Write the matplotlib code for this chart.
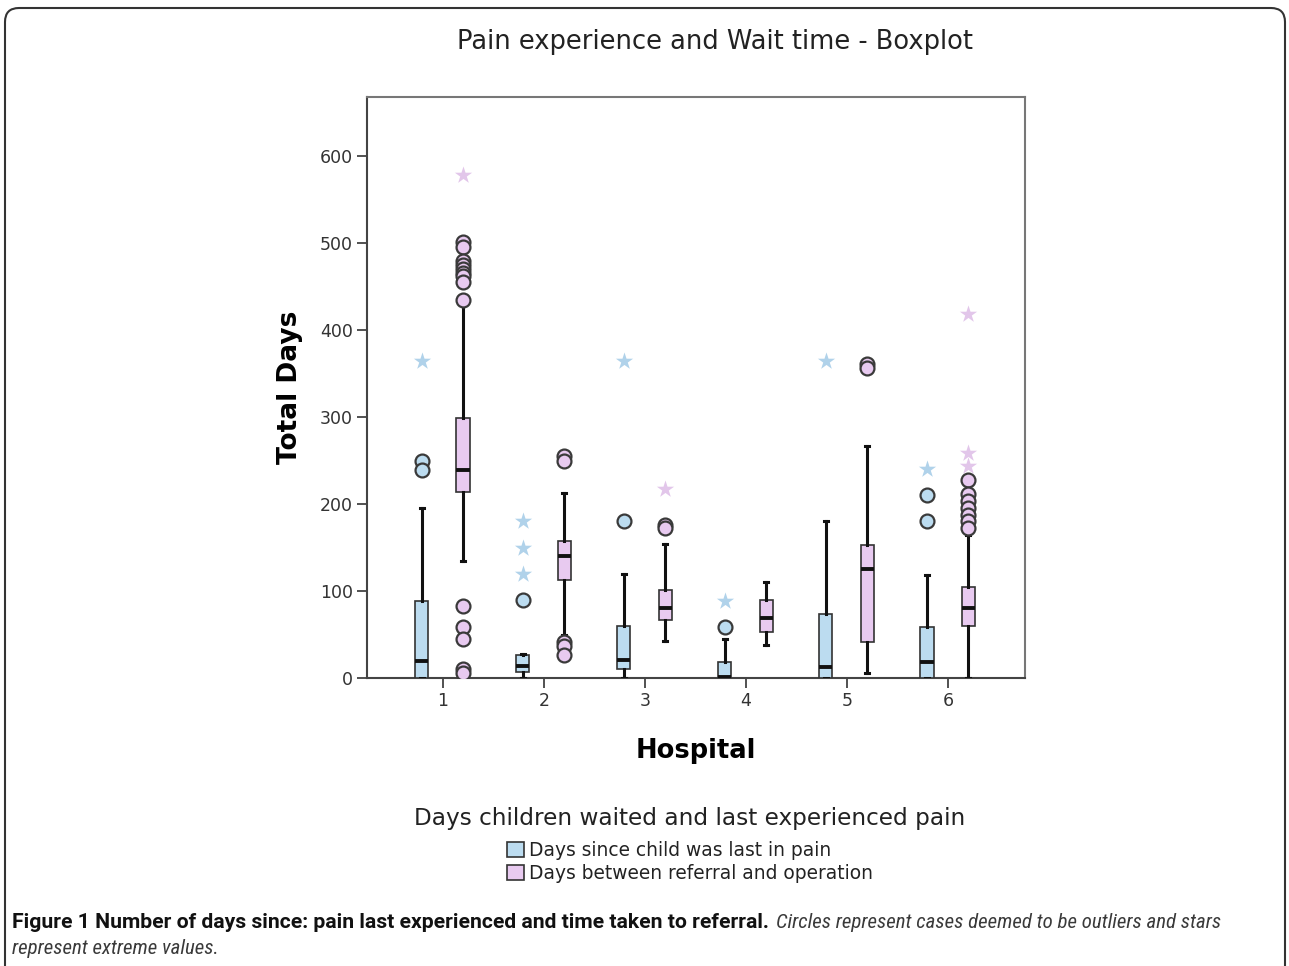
import matplotlib
matplotlib.use('Agg')
import matplotlib.pyplot as plt
from matplotlib.patches import Patch, FancyBboxPatch

plt.rcParams['font.family'] = ['DejaVu Sans']

# 数据: 每家医院的箱线统计值
hospitals = [1, 2, 3, 4, 5, 6]

# 蓝色: Days since child was last in pain
pain_whislo = [0, 0, 0, 0, 0, 0]
pain_q1 = [0, 7, 10, 0, 0, 0]
pain_med = [20, 14, 21, 1, 13, 19]
pain_q3 = [89, 26, 60, 19, 74, 59]
pain_whishi = [196, 28, 120, 45, 181, 119]
pain_outliers = [[250, 239], [90], [180], [59], [], [210, 180]]
pain_extremes = [[365], [180, 150, 120], [365], [89], [365], [240]]

# 粉色: Days between referral and operation
wait_whislo = [134, 50, 43, 38, 6, 0]
wait_q1 = [214, 113, 67, 53, 42, 60]
wait_med = [239, 140, 80, 69, 125, 81]
wait_q3 = [299, 158, 101, 90, 153, 105]
wait_whishi = [430, 213, 154, 110, 267, 165]
wait_outliers = [[501, 496, 480, 475, 470, 466, 462, 455, 435, 83, 59, 45, 10, 6],
                 [255, 250, 42, 37, 26],
                 [176, 173],
                 [],
                 [361, 357],
                 [228, 212, 204, 196, 188, 181, 173]]
wait_extremes = [[578], [], [217], [], [], [419, 259, 244]]

y_ticks = [0, 100, 200, 300, 400, 500, 600]

blue_fill = '#bcdcf0'
pink_fill = '#e8caf0'
blue_star = '#b0d2ea'
pink_star = '#e2c6ea'


def make_stats(whislo, q1, med, q3, whishi, outliers):
    stats = []
    for i in range(len(med)):
        stats.append({'whislo': whislo[i], 'q1': q1[i], 'med': med[i],
                      'q3': q3[i], 'whishi': whishi[i], 'fliers': outliers[i]})
    return stats


fig = plt.figure(figsize=(12.89, 9.66), dpi=100)
ax = fig.add_axes([0.2847, 0.2981, 0.5105, 0.6015])

series = [
    (make_stats(pain_whislo, pain_q1, pain_med, pain_q3, pain_whishi, pain_outliers),
     pain_extremes, -0.21, blue_fill, blue_star),
    (make_stats(wait_whislo, wait_q1, wait_med, wait_q3, wait_whishi, wait_outliers),
     wait_extremes, 0.2, pink_fill, pink_star),
]

for stats, extremes, offset, fill, star in series:
    pos = [h + offset for h in hospitals]
    ax.bxp(stats, positions=pos, widths=0.13, capwidths=0.04, patch_artist=True,
           boxprops=dict(facecolor=fill, edgecolor='#333333', linewidth=1.2),
           medianprops=dict(color='#111111', linewidth=2.8),
           whiskerprops=dict(color='#111111', linewidth=2.2),
           capprops=dict(color='#111111', linewidth=2.2),
           flierprops=dict(marker='o', markersize=10, markerfacecolor=fill,
                           markeredgecolor='#3a3a3a', markeredgewidth=1.6),
           zorder=3)
    for p, ext in zip(pos, extremes):
        ax.scatter([p] * len(ext), ext, marker='*', s=170, color=star,
                   linewidths=0, zorder=4)

ax.set_xlim(0.25, 6.76)
ax.set_ylim(0, 668)
ax.set_xticks(hospitals)
ax.set_xticklabels([str(h) for h in hospitals])
ax.set_yticks(y_ticks)
ax.tick_params(axis='both', labelsize=12.5, colors='#333333', length=7, width=1.2,
               direction='out', pad=3)
for sp in ax.spines.values():
    sp.set_color('#777777')
    sp.set_linewidth(1.5)
ax.spines['left'].set_color('#444444')
ax.spines['bottom'].set_color('#444444')

ax.set_ylabel('Total Days', fontsize=19, fontweight='bold', labelpad=12)
ax.set_xlabel('Hospital', fontsize=18.5, fontweight='bold', labelpad=20)

fig.text(715 / 1289, 1 - 42 / 966, 'Pain experience and Wait time - Boxplot',
         ha='center', va='center', fontsize=18.5, color='#222222')

handles = [Patch(facecolor=blue_fill, edgecolor='#333333', linewidth=1.2,
                 label='Days since child was last in pain'),
           Patch(facecolor=pink_fill, edgecolor='#333333', linewidth=1.2,
                 label='Days between referral and operation')]
leg = fig.legend(handles=handles, loc='upper center',
                 bbox_to_anchor=(690 / 1289, 1 - 790 / 966), frameon=False,
                 title='Days children waited and last experienced pain',
                 title_fontsize=16.7, fontsize=13.4, handlelength=0.9,
                 handleheight=0.9, handletextpad=0.3, labelspacing=0.22)
leg._legend_box.sep = 8
for t in leg.get_texts():
    t.set_color('#222222')
leg.get_title().set_color('#222222')

# 外框
border = FancyBboxPatch((5, -40), 1280, 998, boxstyle='round,pad=0,rounding_size=14',
                        transform=None, facecolor='none', edgecolor='#333333',
                        linewidth=1.5)
fig.patches.append(border)

# 图注
bold_font = ['Roboto', 'DejaVu Sans']
ital_font = ['Roboto Condensed', 'Roboto', 'DejaVu Sans']
fig.canvas.draw()
renderer = fig.canvas.get_renderer()
bold_txt = fig.text(12 / 1289, 1 - 922 / 966,
                    'Figure 1 Number of days since: pain last experienced and time taken to referral.',
                    ha='left', va='center', fontsize=14, fontweight='bold',
                    family=bold_font, color='#111111')
bb = bold_txt.get_window_extent(renderer)
cap_size = 14 * 758 / bb.width
bold_txt.set_fontsize(cap_size)
bb = bold_txt.get_window_extent(renderer)
ital_txt = fig.text((bb.x1 + 7) / 1289, 1 - 922 / 966,
                    'Circles represent cases deemed to be outliers and stars',
                    ha='left', va='center', fontsize=cap_size, style='italic',
                    family=ital_font, color='#3a3a3a')
ib = ital_txt.get_window_extent(renderer)
ital_size = cap_size * 445 / ib.width
ital_txt.set_fontsize(ital_size)
fig.text(12 / 1289, 1 - 948 / 966, 'represent extreme values.',
         ha='left', va='center', fontsize=ital_size, style='italic', family=ital_font,
         color='#3a3a3a')

plt.savefig('out.png', dpi=100)
